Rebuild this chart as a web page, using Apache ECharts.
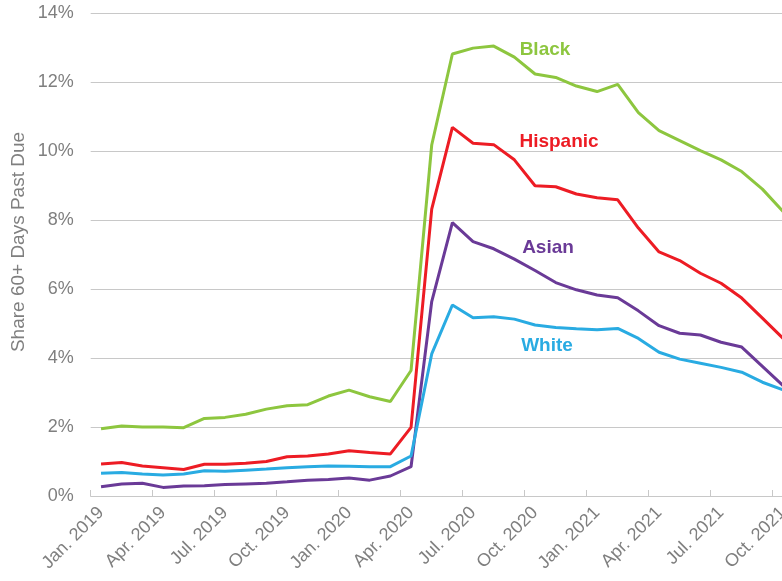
<!DOCTYPE html>
<html>
<head>
<meta charset="utf-8">
<script src="https://cdn.jsdelivr.net/npm/echarts@6/dist/echarts.min.js"></script>
<style>
html,body{margin:0;padding:0;background:#fff;overflow:hidden;}
#chart{width:794px;height:581px;}
</style>
</head>
<body>
<div id="chart"></div>
<script>
var categories = ["Jan. 2019","Feb. 2019","Mar. 2019","Apr. 2019","May 2019","Jun. 2019","Jul. 2019","Aug. 2019","Sep. 2019","Oct. 2019","Nov. 2019","Dec. 2019",
"Jan. 2020","Feb. 2020","Mar. 2020","Apr. 2020","May 2020","Jun. 2020","Jul. 2020","Aug. 2020","Sep. 2020","Oct. 2020","Nov. 2020","Dec. 2020",
"Jan. 2021","Feb. 2021","Mar. 2021","Apr. 2021","May 2021","Jun. 2021","Jul. 2021","Aug. 2021","Sep. 2021","Oct. 2021"];
var black = [1.95,2.03,2.0,2.0,1.98,2.25,2.28,2.37,2.52,2.62,2.65,2.9,3.07,2.88,2.74,3.64,10.18,12.82,12.99,13.05,12.73,12.24,12.14,11.89,11.73,11.94,11.12,10.6,10.31,10.02,9.75,9.41,8.9,8.25];
var hispanic = [0.93,0.97,0.87,0.82,0.77,0.92,0.92,0.95,1.0,1.14,1.16,1.22,1.31,1.26,1.22,1.99,8.32,10.69,10.23,10.19,9.75,9.0,8.97,8.76,8.65,8.59,7.77,7.08,6.83,6.46,6.17,5.74,5.16,4.57];
var asian = [0.27,0.35,0.37,0.25,0.29,0.30,0.33,0.35,0.37,0.41,0.46,0.48,0.52,0.46,0.58,0.85,5.64,7.93,7.38,7.17,6.87,6.54,6.19,5.98,5.83,5.75,5.37,4.94,4.72,4.67,4.46,4.32,3.76,3.2];
var white = [0.66,0.68,0.64,0.61,0.64,0.73,0.72,0.75,0.78,0.82,0.85,0.87,0.86,0.85,0.85,1.16,4.12,5.54,5.17,5.2,5.13,4.96,4.89,4.85,4.82,4.86,4.57,4.17,3.97,3.85,3.73,3.59,3.3,3.08];
var yTicks = {min:0, max:14, interval:2};
var seriesNames = ["Black","Hispanic","Asian","White"];
var colors = {Black:"#8DC63F", Hispanic:"#ED1C24", Asian:"#6A3A97", White:"#29ABE2"};

var font = "Liberation Sans, Arial, sans-serif";
var chart = echarts.init(document.getElementById('chart'));
function mk(name, data){
  return {name:name, type:'line', data:data, symbol:'none', smooth:false,
    lineStyle:{color:colors[name], width:3}, itemStyle:{color:colors[name]}, z: 3};
}
chart.setOption({
  animation:false,
  grid:{left:90.7, top:13.3, width:702.7, height:482.7, containLabel:false},
  xAxis:{type:'category', data:categories, boundaryGap:true,
    axisLine:{show:true, lineStyle:{color:'#c8c8c8', width:1}},
    axisTick:{show:true, inside:true, length:6, interval:2, lineStyle:{color:'#c8c8c8'}},
    axisLabel:{interval:2, rotate:45, color:'#7f7f7f', fontSize:18, fontFamily:font, margin:14}
  },
  yAxis:{type:'value', min:yTicks.min, max:yTicks.max, interval:yTicks.interval,
    axisLine:{show:false}, axisTick:{show:false},
    axisLabel:{formatter:'{value}%', color:'#7f7f7f', fontSize:18, fontFamily:font, margin:17},
    splitLine:{lineStyle:{color:'#c8c8c8', width:1}}
  },
  series:[mk("Black",black), mk("Hispanic",hispanic), mk("Asian",asian), mk("White",white)],
  graphic:[
    {type:'text', x:19, y:242, rotation:Math.PI/2,
      style:{text:'Share 60+ Days Past Due', fill:'#7f7f7f', font:'19px '+font, align:'center', verticalAlign:'middle'}},
    {type:'text', x:545, y:50, style:{text:'Black', fill:colors.Black, font:'bold 19px '+font, align:'center', verticalAlign:'middle'}},
    {type:'text', x:559, y:142, style:{text:'Hispanic', fill:colors.Hispanic, font:'bold 19px '+font, align:'center', verticalAlign:'middle'}},
    {type:'text', x:548, y:248, style:{text:'Asian', fill:colors.Asian, font:'bold 19px '+font, align:'center', verticalAlign:'middle'}},
    {type:'text', x:547, y:346, style:{text:'White', fill:colors.White, font:'bold 19px '+font, align:'center', verticalAlign:'middle'}}
  ]
});
</script>
</body>
</html>
